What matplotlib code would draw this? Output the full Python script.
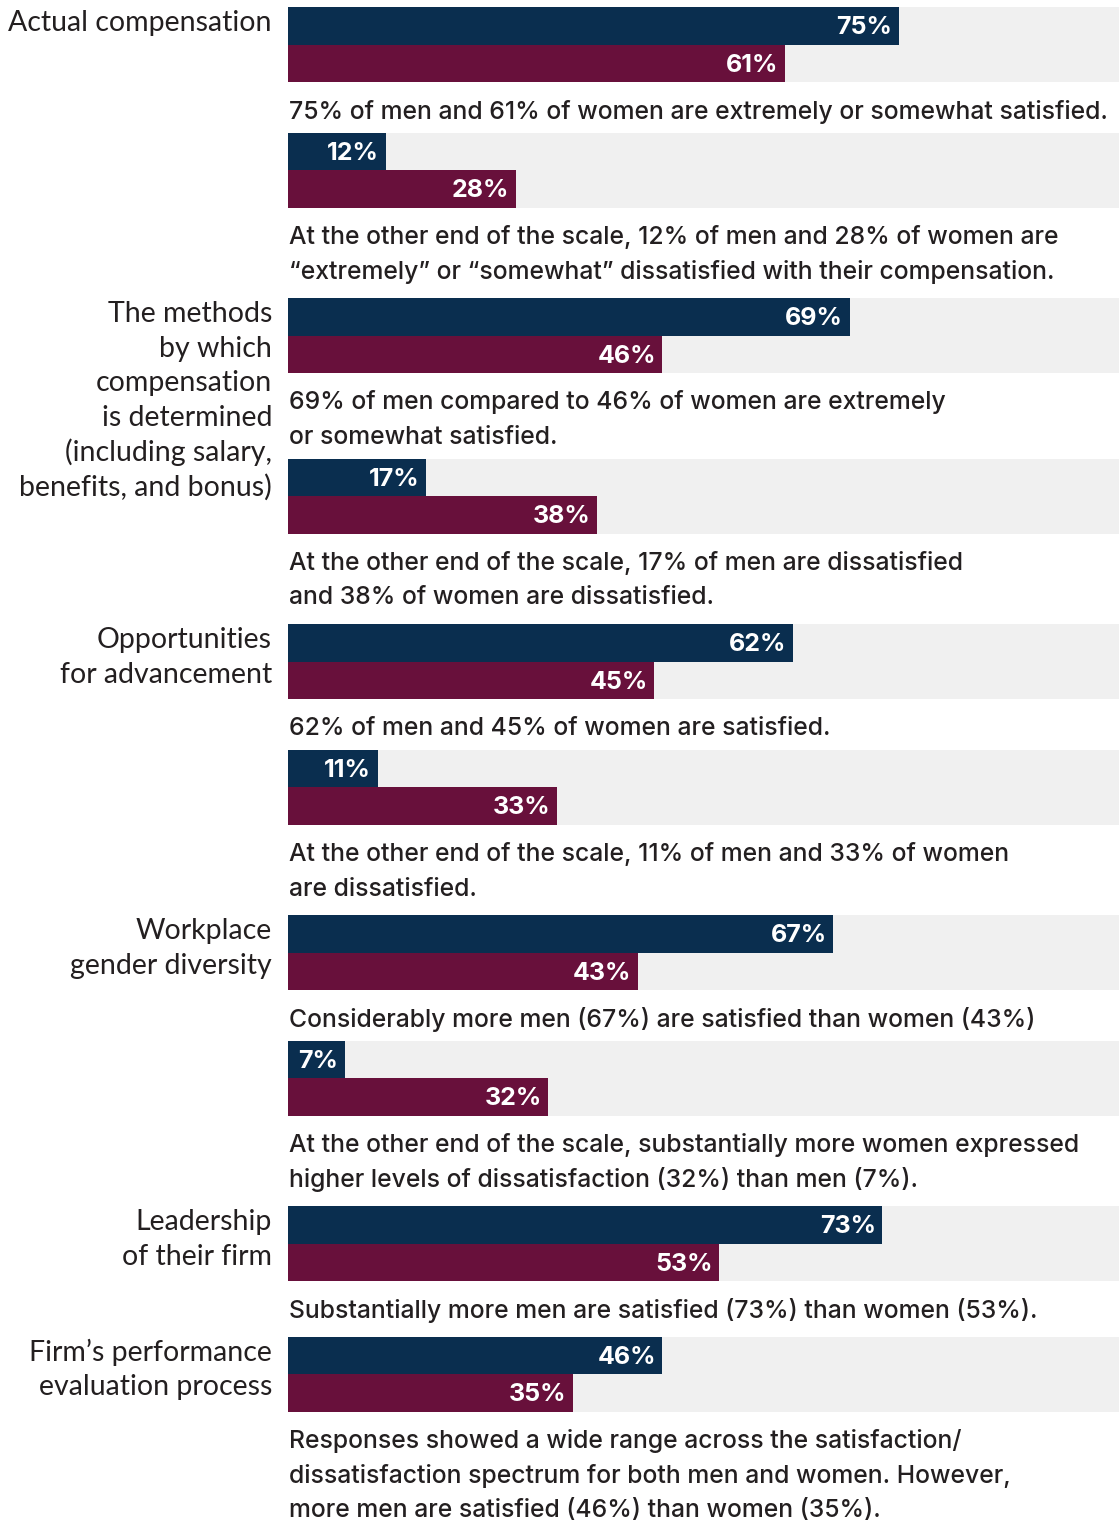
import matplotlib.pyplot as plt

categories = [
    "Actual compensation",
    "The methods\nby which\ncompensation\nis determined\n(including salary,\nbenefits, and bonus)",
    "Opportunities\nfor advancement",
    "Workplace\ngender diversity",
    "Leadership\nof their firm",
    "Firm\u2019s performance\nevaluation process",
]
men_satisfied = [75, 69, 62, 67, 73, 46]
women_satisfied = [61, 46, 45, 43, 53, 35]
men_dissatisfied = [12, 17, 11, 7, None, None]
women_dissatisfied = [28, 38, 33, 32, None, None]

satisfied_notes = [
    "75% of men and 61% of women are extremely or somewhat satisfied.",
    "69% of men compared to 46% of women are extremely\nor somewhat satisfied.",
    "62% of men and 45% of women are satisfied.",
    "Considerably more men (67%) are satisfied than women (43%)",
    "Substantially more men are satisfied (73%) than women (53%).",
    "Responses showed a wide range across the satisfaction/\ndissatisfaction spectrum for both men and women. However,\nmore men are satisfied (46%) than women (35%).",
]
dissatisfied_notes = [
    "At the other end of the scale, 12% of men and 28% of women are\n\u201cextremely\u201d or \u201csomewhat\u201d dissatisfied with their compensation.",
    "At the other end of the scale, 17% of men are dissatisfied\nand 38% of women are dissatisfied.",
    "At the other end of the scale, 11% of men and 33% of women\nare dissatisfied.",
    "At the other end of the scale, substantially more women expressed\nhigher levels of dissatisfaction (32%) than men (7%).",
    None,
    None,
]

NAVY = "#0A2E4F"
MAROON = "#68103B"
GREY = "#F0F0F0"
TEXT = "#231F20"

W, H = 1119, 1522
px = 8.14  # pixels per percent
x0 = 288

fig = plt.figure(figsize=(W / 100, H / 100), dpi=100)
ax = fig.add_axes([0, 0, 1, 1])
ax.set_xlim(-x0 / px, (W - x0) / px)
ax.set_ylim(H, 0)
ax.axis("off")
xmax = (W - x0) / px

bar_h = 37.5
line_h = 35


def draw_pair(top, m, w):
    ys = [top + bar_h / 2, top + bar_h * 1.5]
    ax.barh(top + bar_h, xmax, height=2 * bar_h, left=0, color=GREY, zorder=1)
    for y, v, c in zip(ys, [m, w], [NAVY, MAROON]):
        ax.barh(y, v, height=bar_h, left=0, color=c, zorder=2)
        ax.text(v - 0.8, y + 2, f"{v}%", color="white", ha="right", va="center",
                fontsize=18, fontweight="bold", family="Inter", zorder=3)
    return top + 2 * bar_h


def draw_note(bottom, note):
    y = bottom + 29.5
    for line in note.split("\n"):
        ax.text(0.1, y, line, color=TEXT, ha="left", va="center",
                fontsize=17.8, fontweight="medium", family="Inter")
        y += line_h
    return y - line_h


y = 7
for i, cat in enumerate(categories):
    top = y
    ly = top + 16
    for line in cat.split("\n"):
        ax.text(-16 / px, ly, line, color=TEXT, ha="right", va="center",
                fontsize=20.5, family="Lato")
        ly += 34.6
    b = draw_pair(top, men_satisfied[i], women_satisfied[i])
    last = draw_note(b, satisfied_notes[i])
    if men_dissatisfied[i] is not None:
        b = draw_pair(last + 21, men_dissatisfied[i], women_dissatisfied[i])
        last = draw_note(b, dissatisfied_notes[i])
    y = last + 26

fig.savefig("out.png", dpi=100, facecolor="white")
